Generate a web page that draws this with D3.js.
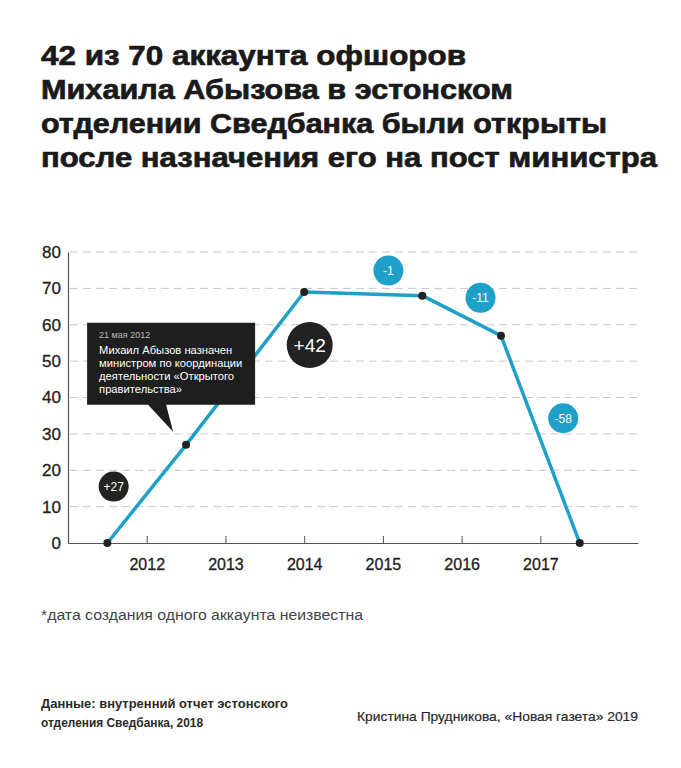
<!DOCTYPE html>
<html>
<head>
<meta charset="utf-8">
<script src="https://cdn.jsdelivr.net/npm/d3@7"></script>
<style>
  body { margin: 0; background: #fff; }
  svg { font-family: "Liberation Sans", Arial, sans-serif; display: block; }
</style>
</head>
<body>
<div id="chart"></div>
<script>
// ---- data ----
const titleLines = [
    '42 из 70 аккаунта офшоров',
    'Михаила Абызова в эстонском',
    'отделении Сведбанка были открыты',
    'после назначения его на пост министра'
];
const titleWidths = [425, 472, 566, 616];
const years = [2011.5, 2012.5, 2014, 2015.5, 2016.5, 2017.5];
const accounts = [0, 27, 69, 68, 57, 0];
const yTicks = [0, 10, 20, 30, 40, 50, 60, 70, 80];
const xTicks = [2012, 2013, 2014, 2015, 2016, 2017];
const changeLabels = ['+27', '+42', '-1', '-11', '-58'];
const changeYears = [2011.58, 2014.07, 2015.07, 2016.24, 2017.29];
const changeLevels = [15.5, 54.4, 74.9, 67.4, 34.3];
const noteDate = '21 мая 2012';
const noteLines = ['Михаил Абызов назначен', 'министром по координации', 'деятельности «Открытого', 'правительства»'];
const footnote = '*дата создания одного аккаунта неизвестна';
const sourceLines = ['Данные: внутренний отчет эстонского', 'отделения Сведбанка, 2018'];
const sourceWidths = [247, 162];
const credit = 'Кристина Прудникова, «Новая газета» 2019';

const width = 681, height = 768;
const blue = '#1ea0c8';
const dark = '#222';

const svg = d3.select('#chart').append('svg')
    .attr('width', width)
    .attr('height', height);

// title
const title = svg.append('g');
titleLines.forEach((t, i) => {
    title.append('text')
        .attr('x', 41)
        .attr('y', 65 + i * 34)
        .attr('font-size', 28.5)
        .attr('font-weight', 'bold')
        .attr('fill', '#1a1a1a')
        .attr('stroke', '#1a1a1a')
        .attr('stroke-width', 0.7)
        .attr('textLength', titleWidths[i])
        .attr('lengthAdjust', 'spacingAndGlyphs')
        .text(t);
});

// scales
const x = d3.scaleLinear().domain([2011, 2018.24]).range([68, 638]);
const y = d3.scaleLinear().domain([0, 80]).range([543, 252]);

// grid lines
svg.append('g')
    .selectAll('line')
    .data(yTicks.filter(d => d > 0))
    .enter()
    .append('line')
    .attr('x1', 70)
    .attr('x2', 638)
    .attr('y1', d => y(d))
    .attr('y2', d => y(d))
    .attr('stroke', '#c8c8c8')
    .attr('stroke-width', 1)
    .attr('stroke-dasharray', '8,5');

// y axis
const yAxis = svg.append('g')
    .attr('transform', `translate(${x(2011)},0)`)
    .call(d3.axisLeft(y).tickValues(yTicks).tickSize(0).tickPadding(7));
yAxis.select('.domain').attr('stroke', '#555').attr('stroke-width', 1.2);
yAxis.selectAll('text')
    .attr('font-size', 17)
    .attr('font-family', '"Liberation Sans", Arial, sans-serif')
    .attr('fill', dark)
    .attr('stroke', dark)
    .attr('stroke-width', 0.3);

// x axis
const xAxis = svg.append('g')
    .attr('transform', `translate(0,${y(0)})`)
    .call(d3.axisBottom(x).tickValues(xTicks).tickFormat(d3.format('d')).tickSize(-7).tickSizeOuter(0).tickPadding(16));
xAxis.select('.domain').attr('stroke', '#555').attr('stroke-width', 1.2);
xAxis.selectAll('.tick line').attr('stroke', '#555');
xAxis.selectAll('text')
    .attr('font-size', 16)
    .attr('font-family', '"Liberation Sans", Arial, sans-serif')
    .attr('fill', dark)
    .attr('stroke', dark)
    .attr('stroke-width', 0.3);

// line
const points = years.map((yr, i) => ({ year: yr, value: accounts[i] }));
const line = d3.line().x(d => x(d.year)).y(d => y(d.value));

svg.append('path')
    .datum(points)
    .attr('d', line)
    .attr('fill', 'none')
    .attr('stroke', blue)
    .attr('stroke-width', 3.5)
    .attr('stroke-linejoin', 'round');

svg.append('g')
    .selectAll('circle')
    .data(points)
    .enter()
    .append('circle')
    .attr('cx', d => x(d.year))
    .attr('cy', d => y(d.value))
    .attr('r', 4)
    .attr('fill', dark);

// change bubbles
const bubbles = changeLabels.map((t, i) => ({
    label: t, year: changeYears[i], level: changeLevels[i], up: t[0] === '+'
}));
const bubble = svg.append('g')
    .selectAll('g')
    .data(bubbles)
    .enter()
    .append('g')
    .attr('transform', d => `translate(${x(d.year)},${y(d.level)})`);

bubble.append('circle')
    .attr('r', d => d.label === '+42' ? 23 : 15)
    .attr('fill', d => d.up ? dark : blue);

bubble.append('text')
    .attr('text-anchor', 'middle')
    .attr('dy', '0.36em')
    .attr('font-size', d => d.label === '+42' ? 19 : 12)
    .attr('fill', '#fff')
    .text(d => d.label);

// annotation callout
const anchor = points[1];
const ax = x(anchor.year), ay = y(anchor.value);
const note = svg.append('g');
const bx = ax - 99, by = ay - 122, bw = 168, bh = 82;
note.append('path')
    .attr('d', `M${bx},${by}H${bx + bw}V${by + bh}H${ax - 20}L${ax - 13},${ay - 13}L${ax - 38},${by + bh}H${bx}Z`)
    .attr('fill', '#1e1e1e');
note.append('text')
    .attr('x', bx + 12)
    .attr('y', by + 15)
    .attr('font-size', 9)
    .attr('fill', '#bbb')
    .text(noteDate);
noteLines.forEach((t, i) => {
    note.append('text')
        .attr('x', bx + 12)
        .attr('y', by + 31 + i * 13)
        .attr('font-size', 11.2)
        .attr('fill', '#fff')
        .text(t);
});

// footnote and credits
svg.append('text')
    .attr('x', 41)
    .attr('y', 620)
    .attr('font-size', 15.5)
    .attr('fill', '#444')
    .attr('textLength', 322)
    .attr('lengthAdjust', 'spacingAndGlyphs')
    .text(footnote);

sourceLines.forEach((t, i) => {
    svg.append('text')
        .attr('x', 41)
        .attr('y', 708 + i * 19)
        .attr('font-size', 13)
        .attr('font-weight', 'bold')
        .attr('fill', '#2a2a2a')
        .attr('textLength', sourceWidths[i])
        .attr('lengthAdjust', 'spacingAndGlyphs')
        .text(t);
});

svg.append('text')
    .attr('x', 638)
    .attr('y', 721)
    .attr('text-anchor', 'end')
    .attr('font-size', 13)
    .attr('fill', '#2a2a2a')
    .attr('stroke', '#2a2a2a')
    .attr('stroke-width', 0.2)
    .attr('textLength', 281)
    .attr('lengthAdjust', 'spacingAndGlyphs')
    .text(credit);
</script>
</body>
</html>
